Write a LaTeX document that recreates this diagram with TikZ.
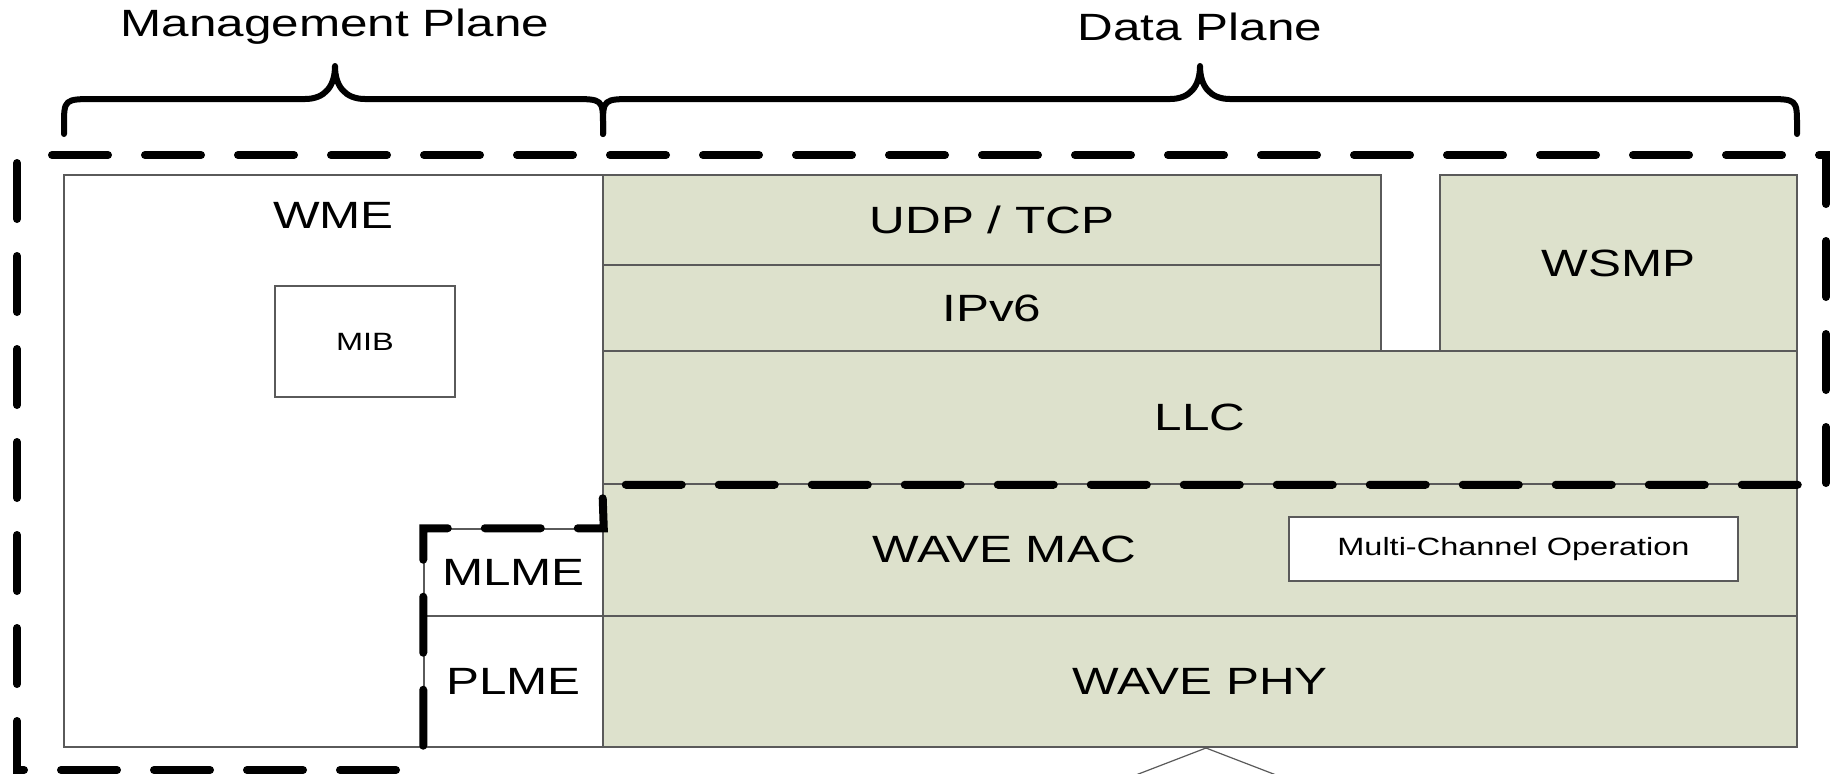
\documentclass[tikz,border=0pt]{standalone}
\usepackage{fontspec}
\setmainfont{Liberation Sans}[FakeStretch=1.3]
\usepackage{tikz}
\usetikzlibrary{positioning}

\definecolor{layergreen}{RGB}{221,225,204}
\definecolor{edgegray}{RGB}{90,90,90}
\newcommand{\layerfont}{\fontsize{19}{23}\selectfont}
\newcommand{\subfont}{\fontsize{12.5}{15}\selectfont}

\begin{document}
\begin{tikzpicture}[x=0.5pt, y=-0.5pt,
				layer/.style={rectangle, draw=edgegray, fill=layergreen, line width=0.75pt,
						inner sep=0pt, font=\layerfont, text centered},
				mgmtbox/.style={layer, fill=white},
				subbox/.style={rectangle, draw=edgegray, fill=white, line width=0.75pt,
						inner sep=0pt, font=\subfont, text centered},
				boundary/.style={line width=4pt, line cap=round,
						dash pattern=on 28pt off 18.5pt},
				planebrace/.style={line width=3pt, line cap=round, line join=round},
				caption/.style={inner sep=0pt, font=\layerfont}
			]

			\clip (0,0) rectangle (1830,773);

			% Management plane boxes
			\node[mgmtbox, minimum width=269.5pt, minimum height=286pt] (wme) at (333.5,461) {};
			\node[caption, below=14pt of wme.north] (wmetext) {WME};
			\node[subbox, minimum width=90pt, minimum height=55.5pt] (mib) at (365,341.5) {MIB};
			\node[mgmtbox, minimum width=89.5pt, minimum height=43.5pt] (mlme) at (513.5,572.5) {MLME};
			\node[mgmtbox, minimum width=89.5pt, minimum height=65.5pt] (plme) at (513.5,681.5) {PLME};

			% Data plane stack
			\node[layer, minimum width=389pt, minimum height=45pt] (udp) at (992,220) {UDP / TCP};
			\node[layer, minimum width=389pt, minimum height=43pt] (ipv6) at (992,308) {IPv6};
			\node[layer, minimum width=178.5pt, minimum height=88pt] (wsmp) at (1618.5,263) {WSMP};
			\node[layer, minimum width=597pt, minimum height=66.5pt] (llc) at (1200,417.5) {LLC};
			\node[layer, minimum width=597pt, minimum height=66pt] (mac) at (1200,550) {};
			\node[caption] (mactext) at (1004,549) {WAVE MAC};
			\node[subbox, minimum width=224.5pt, minimum height=32pt] (mco) at (1513.5,549) {Multi-Channel Operation};
			\node[layer, minimum width=597pt, minimum height=65.5pt] (phy) at (1200,681.5) {WAVE PHY};

			% Dashed boundaries
			\draw[boundary] (17,163) -- (17,770) -- (424,770);
			\draw[boundary] (52,155) -- (1826,155) -- (1826,484);
			\draw[boundary] (llc.south east) -- (llc.south west) -- (mlme.north east)
				-- (mlme.north west) -- (plme.south west);

			% Plane braces
			\draw[planebrace] (64,134) -- (64,126) .. controls (64,99) .. (96,99) -- (305,99)
				.. controls (325,99) and (335,86) .. (335,66)
				.. controls (335,86) and (345,99) .. (365,99) -- (571,99)
				.. controls (603,99) .. (603,126) -- (603,134);
			\draw[planebrace] (603,134) -- (603,126) .. controls (603,99) .. (635,99) -- (1170,99)
				.. controls (1190,99) and (1200,86) .. (1200,66)
				.. controls (1200,86) and (1210,99) .. (1230,99) -- (1765,99)
				.. controls (1797,99) .. (1797,126) -- (1797,134);
			\node[caption] (mgmtplane) at (335,27) {Management Plane};
			\node[caption] (dataplane) at (1200,27) {Data Plane};

			% Tip below the stack
			\coordinate (phytip) at (1206,748);
			\draw[edgegray, line width=0.6pt] (1128,778) -- (phytip) -- (1284,778);

		\end{tikzpicture}
\end{document}
